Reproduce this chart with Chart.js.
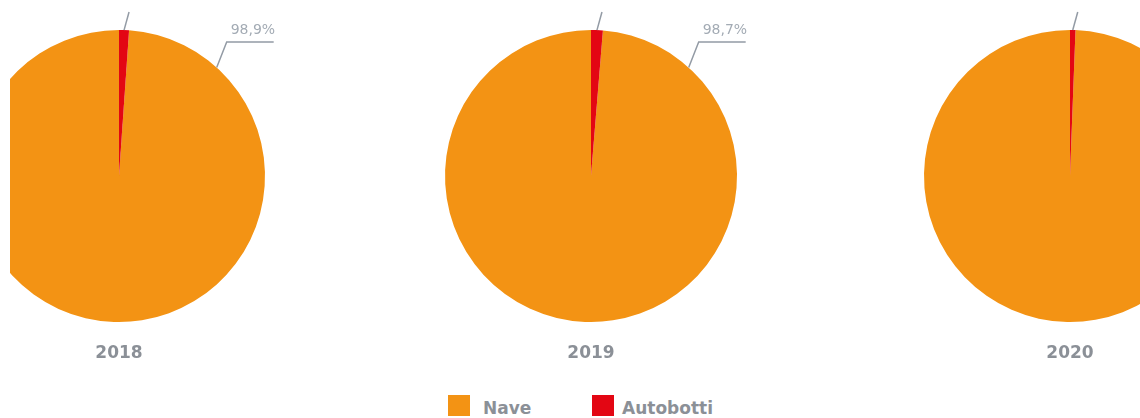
<!DOCTYPE html>
<html>
<head>
<meta charset="utf-8">
<script src="https://cdn.jsdelivr.net/npm/chart.js@4/dist/chart.umd.min.js"></script>
<style>
  html, body { margin:0; padding:0; background:#fff; overflow:hidden; width:1140px; height:418px; }
  .pie { position:absolute; top:0; width:400px; height:370px; }
  .mask { position:absolute; left:0; top:0; width:10px; height:418px; background:#fff; z-index:5; }
  .leg { position:absolute; font-family:"DejaVu Sans", sans-serif; font-weight:bold; font-size:17px; color:#8b9097; }
  .sw { position:absolute; width:22px; height:21px; }
</style>
</head>
<body>
<div class="pie" style="left:-81px"><canvas id="c0" width="400" height="370"></canvas></div>
<div class="pie" style="left:391px"><canvas id="c1" width="400" height="370"></canvas></div>
<div class="pie" style="left:870px"><canvas id="c2" width="400" height="370"></canvas></div>
<div class="mask"></div>
<div class="sw" style="left:448px;top:395px;background:#F39314"></div>
<div class="leg" style="left:483px;top:398px" id="l0"></div>
<div class="sw" style="left:592px;top:395px;background:#E30613"></div>
<div class="leg" style="left:622px;top:398px" id="l1"></div>
<script>
const years = ['2018', '2019', '2020'];
const seriesLabels = ['Nave', 'Autobotti'];
const nave = [98.9, 98.7, 99.4];
const autobotti = [1.1, 1.3, 0.6];

const ORANGE = '#F39314';
const RED = '#E30613';
const LINE = '#939ba5';

document.getElementById('l0').textContent = seriesLabels[0];
document.getElementById('l1').textContent = seriesLabels[1];

function fmt(v) { return v.toFixed(1).replace('.', ',') + '%'; }

const leaderPlugin = {
  id: 'leader',
  afterDraw(chart, args, opts) {
    const ctx = chart.ctx;
    const meta = chart.getDatasetMeta(0);
    const arc0 = meta.data[0];
    const arc1 = meta.data[1];
    const cx = arc0.x, cy = arc0.y, r = arc0.outerRadius;
    ctx.save();
    ctx.strokeStyle = LINE;
    ctx.lineWidth = 1.5;
    // Nave leader
    const a = 42 * Math.PI / 180;
    const sx = cx + r * Math.sin(a), sy = cy - r * Math.cos(a);
    const ex = sx + 10, ey = 42;
    ctx.beginPath();
    ctx.moveTo(sx, sy); ctx.lineTo(ex, ey); ctx.lineTo(ex + 47, ey);
    ctx.stroke();
    ctx.fillStyle = '#a3abb4';
    ctx.font = '14px "DejaVu Sans"';
    ctx.textAlign = 'left';
    ctx.textBaseline = 'alphabetic';
    ctx.fillText(opts.naveText, ex + 4, 34);
    // Autobotti leader
    const m = (arc1.startAngle + arc1.endAngle) / 2;
    const bx = cx + r * Math.cos(m), by = cy + r * Math.sin(m);
    ctx.beginPath();
    ctx.moveTo(bx, by); ctx.lineTo(bx + 5, 12);
    ctx.stroke();
    // year label
    ctx.fillStyle = '#8b9097';
    ctx.font = 'bold 17px "DejaVu Sans"';
    ctx.textAlign = 'center';
    ctx.fillText(opts.year, cx, 358);
    ctx.restore();
  }
};

years.forEach((y, i) => {
  new Chart(document.getElementById('c' + i), {
    type: 'pie',
    data: {
      labels: seriesLabels,
      datasets: [{
        data: [nave[i], autobotti[i]],
        backgroundColor: [ORANGE, RED],
        borderWidth: 0,
        hoverOffset: 0,
        offset: 0
      }]
    },
    options: {
      responsive: false,
      animation: false,
      rotation: autobotti[i] * 360 / 100,
      layout: { padding: { top: 30, bottom: 48, left: 54, right: 54 } },
      plugins: {
        legend: { display: false },
        tooltip: { enabled: false },
        leader: { naveText: fmt(nave[i]), year: y }
      }
    },
    plugins: [leaderPlugin]
  });
});
</script>
</body>
</html>
